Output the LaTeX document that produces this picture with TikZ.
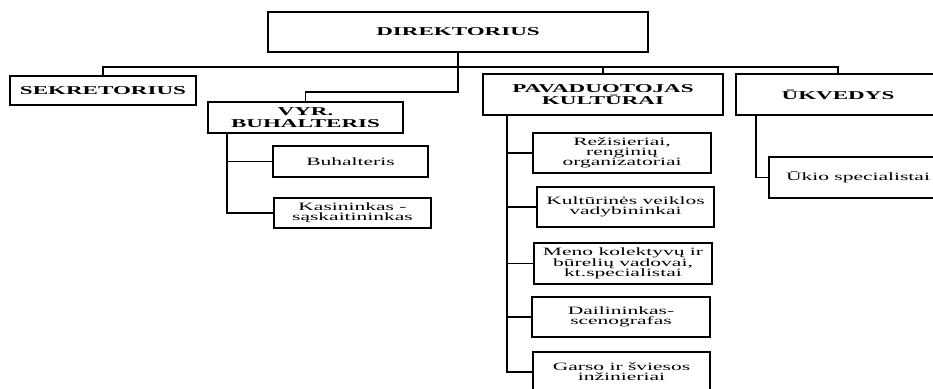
\documentclass[tikz,border=0pt]{standalone}
\usepackage{fontspec}
\setmainfont[FakeStretch=1.92]{Liberation Serif}
\begin{document}
\begin{tikzpicture}[x=1pt,y=-1pt,
  box/.style={draw, line width=1.1pt, inner sep=0pt, align=center},
  hbox/.style={box, font=\fontsize{12}{11.5}\selectfont\bfseries},
  sbox/.style={box, font=\fontsize{11.2}{10.3}\selectfont},
  conn/.style={line width=1.1pt}]
\useasboundingbox (0,0) rectangle (933,388);
\clip (0,0) rectangle (933,388);
% top level
\node[hbox, minimum width=380, minimum height=40] (dir) at (458,32) {DIREKTORIUS};
\node[hbox, minimum width=186, minimum height=29] (sek) at (103,90.5) {SEKRETORIUS};
\node[hbox, minimum width=195, minimum height=31] (vyr) at (305.5,117.5) {VYR.\\BUHALTERIS};
\node[hbox, minimum width=240, minimum height=41] (pav) at (603,94.5) {PAVADUOTOJAS\\KULTŪRAI};
\node[hbox, minimum width=204, minimum height=41] (ukv) at (838,94.5) {ŪKVEDYS};
% children of VYR
\node[sbox, minimum width=155, minimum height=31] (buh) at (350.5,161.5) {Buhalteris};
\node[sbox, minimum width=157, minimum height=30] (kas) at (352.5,213) {Kasininkas -\\sąskaitininkas};
% children of PAV
\node[sbox, minimum width=178, minimum height=40] (rez) at (622,153) {Režisieriai,\\renginių\\organizatoriai};
\node[sbox, minimum width=177, minimum height=40] (kul) at (625.5,207) {Kultūrinės veiklos\\vadybininkai};
\node[sbox, minimum width=178, minimum height=41] (men) at (623,263.5) {Meno kolektyvų ir\\būrelių vadovai,\\kt.specialistai};
\node[sbox, minimum width=178, minimum height=40] (dai) at (621,317) {Dailininkas-\\scenografas};
\node[sbox, minimum width=177, minimum height=40] (gar) at (621.5,372) {Garso ir šviesos\\inžinieriai};
% child of UKV
\node[sbox, minimum width=178, minimum height=41] (uki) at (858,177.5) {Ūkio specialistai};
% junction coordinates
\coordinate (bus) at (458,67);
\coordinate (vyrjoint) at (458,92);
\coordinate (vyrstem) at (227,133);
\coordinate (pavstem) at (507,115);
\coordinate (ukvstem) at (756,115);
% connectors
\draw[conn] (dir.south) -- (bus) -- (vyrjoint) -| (vyr.north);
\draw[conn] (sek.north) |- (bus);
\draw[conn] (pav.north) |- (bus);
\draw[conn] (ukv.north) |- (bus);
\draw[conn] (vyrstem) |- (buh.west);
\draw[conn] (vyrstem) |- (kas.west);
\draw[conn] (pavstem) |- (rez.west);
\draw[conn] (pavstem) |- (kul.west);
\draw[conn] (pavstem) |- (men.west);
\draw[conn] (pavstem) |- (dai.west);
\draw[conn] (pavstem) |- (gar.west);
\draw[conn] (ukvstem) |- (uki.west);
\end{tikzpicture}
\end{document}
